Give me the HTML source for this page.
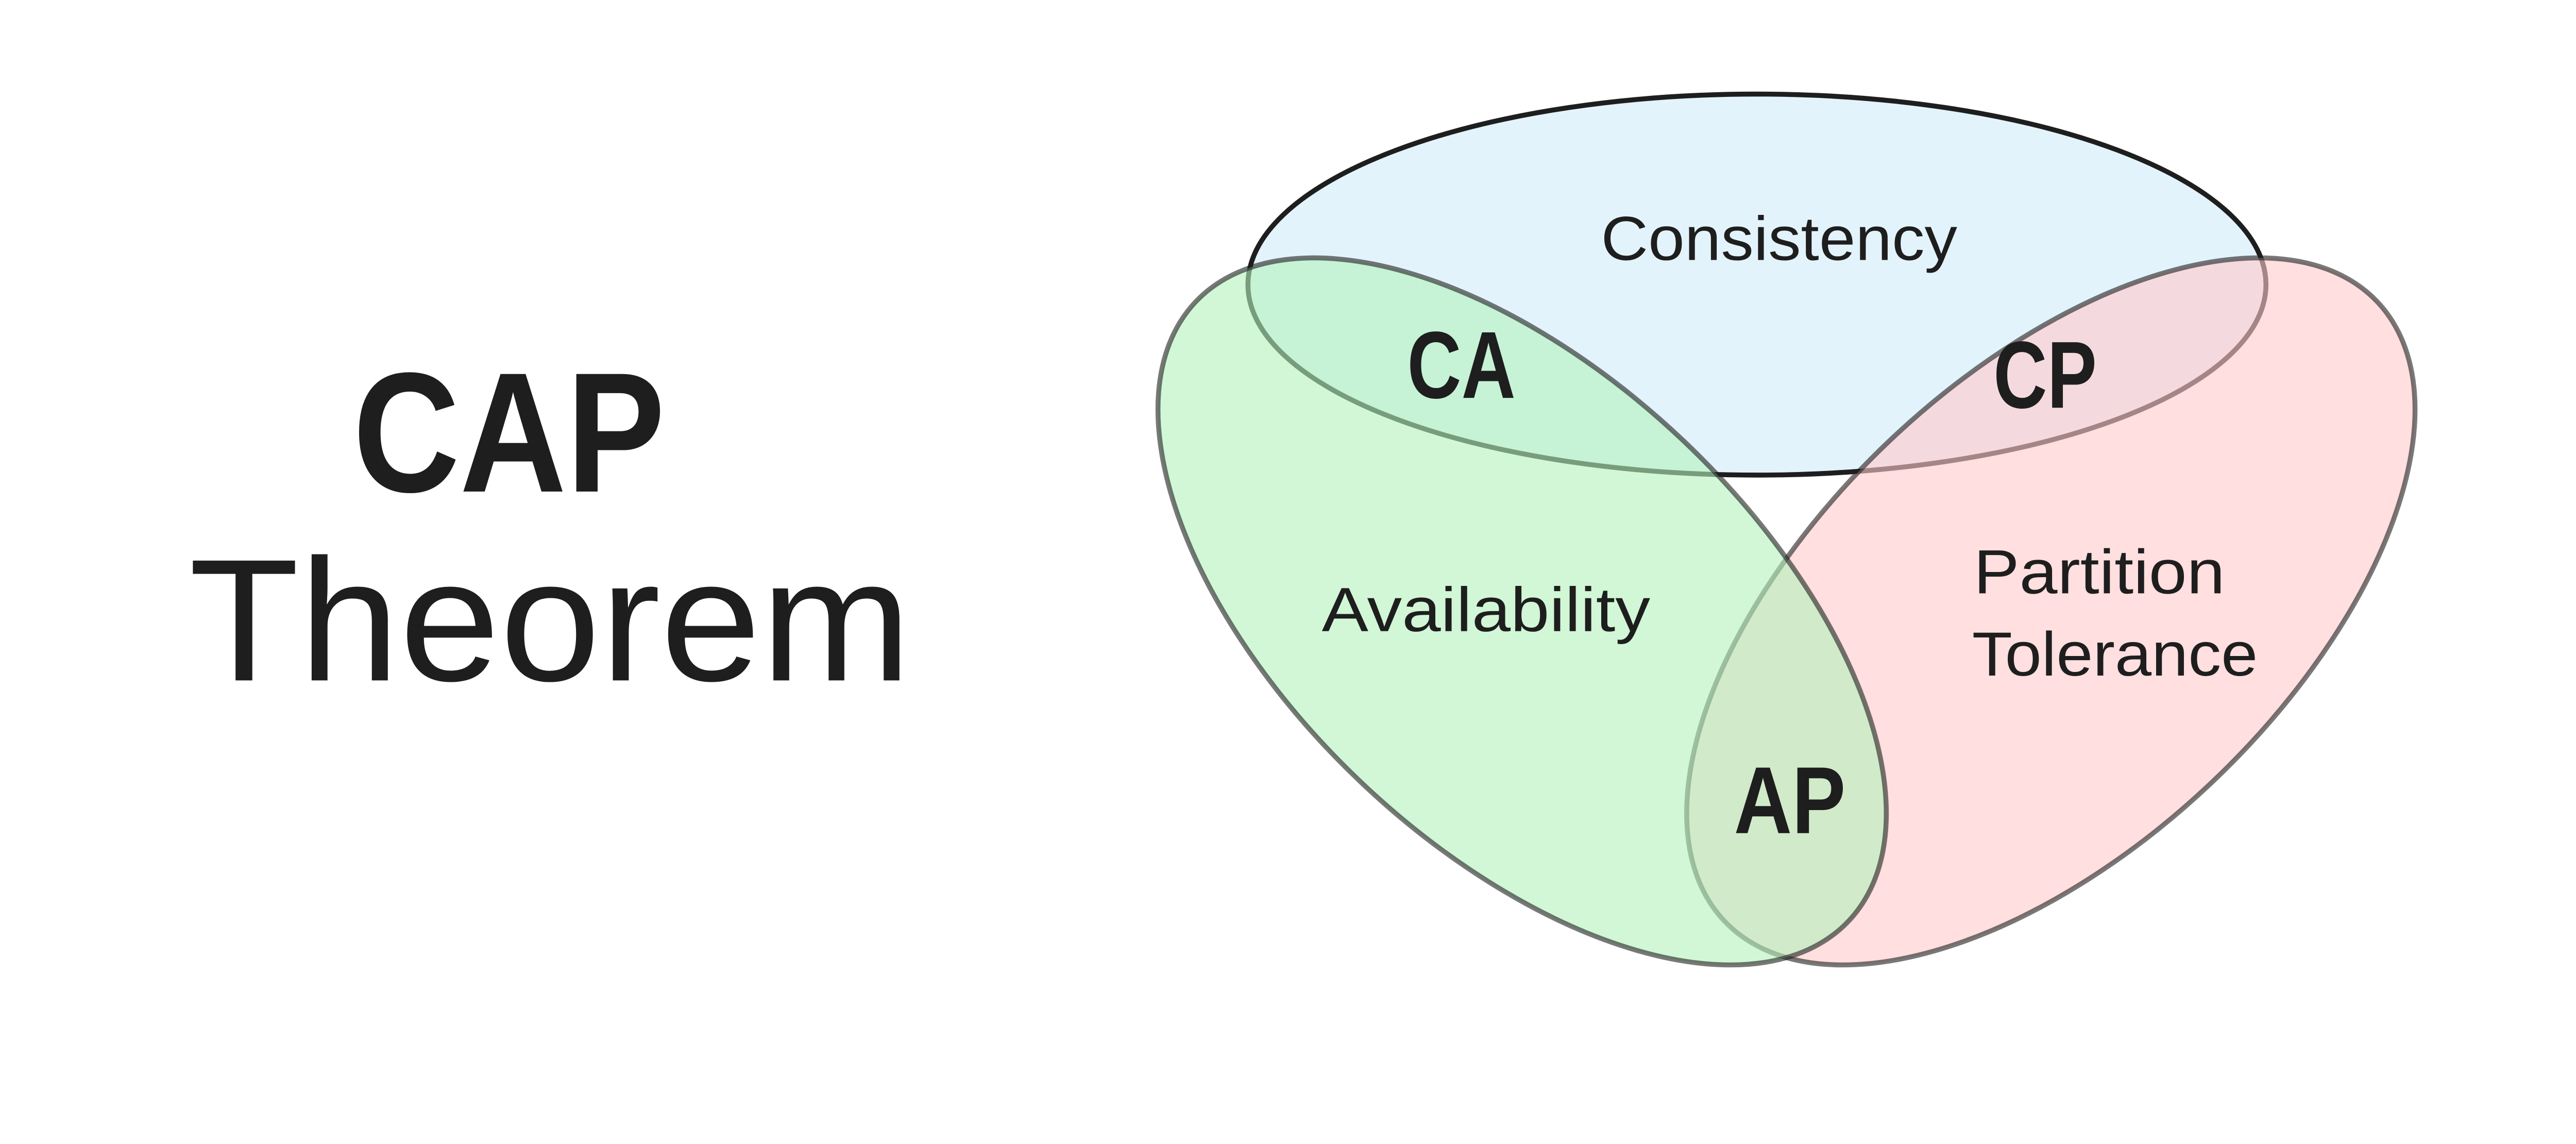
<!DOCTYPE html>
<html><head><style>
html,body{margin:0;padding:0;background:#fff;}
svg{display:block;}
</style></head><body>
<svg width="5195" height="2220" viewBox="0 0 1630 696" xmlns="http://www.w3.org/2000/svg">
<rect width="1630" height="696" fill="#fff"/>
<text x="215" y="299" font-family="Liberation Sans, sans-serif" font-weight="900" font-size="104" fill="#1e1e1e" textLength="190" lengthAdjust="spacingAndGlyphs">CAP</text>
<text x="115" y="414" font-family="Liberation Sans, sans-serif" font-size="106" fill="#1e1e1e" textLength="440" lengthAdjust="spacingAndGlyphs">Theorem</text>
<ellipse cx="1070" cy="173" rx="310" ry="116" fill="#e3f3fc" stroke="#1e1e1e" stroke-width="3"/>
<ellipse cx="1249" cy="372" rx="274" ry="143" transform="rotate(-43.5 1249 372)" fill="#ffc9c9" fill-opacity="0.6" stroke="#1e1e1e" stroke-opacity="0.6" stroke-width="3"/>
<ellipse cx="927" cy="372" rx="274" ry="143" transform="rotate(43.5 927 372)" fill="#b2f2bb" fill-opacity="0.6" stroke="#1e1e1e" stroke-opacity="0.6" stroke-width="3"/>
<g font-family="Liberation Sans, sans-serif" fill="#1e1e1e">
<text x="975" y="158" font-size="38" textLength="217" lengthAdjust="spacingAndGlyphs">Consistency</text>
<text x="805" y="384" font-size="38" textLength="200" lengthAdjust="spacingAndGlyphs">Availability</text>
<text x="1202" y="361" font-size="38" textLength="153" lengthAdjust="spacingAndGlyphs">Partition</text>
<text x="1201" y="411" font-size="38" textLength="174" lengthAdjust="spacingAndGlyphs">Tolerance</text>
<text x="857" y="242" font-size="58" font-weight="900" textLength="66" lengthAdjust="spacingAndGlyphs">CA</text>
<text x="1214" y="248" font-size="58" font-weight="900" textLength="63" lengthAdjust="spacingAndGlyphs">CP</text>
<text x="1056" y="507" font-size="58" font-weight="900" textLength="68" lengthAdjust="spacingAndGlyphs">AP</text>
</g>
</svg>
</body></html>
